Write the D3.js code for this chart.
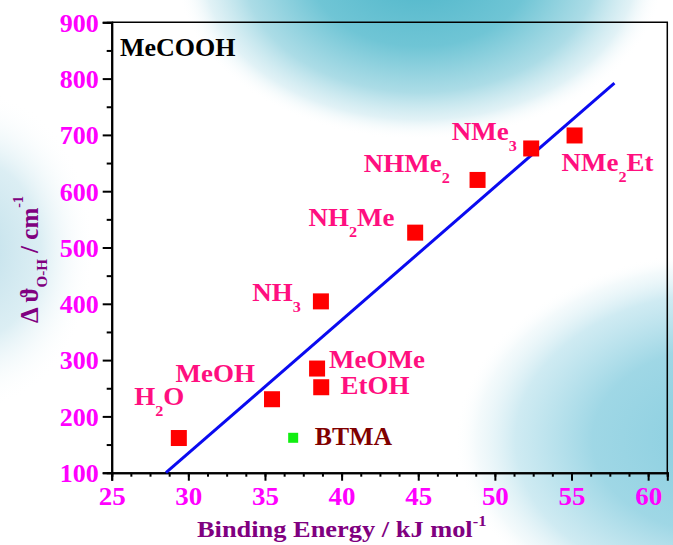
<!DOCTYPE html>
<html>
<head>
<meta charset="utf-8">
<script src="https://cdn.jsdelivr.net/npm/d3@7"></script>
<style>
  html, body { margin: 0; padding: 0; background: #ffffff; }
  svg { display: block; }
  text { font-family: "Liberation Serif", "Times New Roman", serif; font-weight: bold; }
</style>
</head>
<body>
<svg id="chart" width="673" height="545"></svg>
<script>
// Complexes of acetic acid: binding energy (kJ/mol) vs O-H frequency shift (cm^-1)
const complexes = ["H_2O", "MeOH", "MeOMe", "EtOH", "NH_3", "NH_2Me", "NHMe_2", "NMe_3", "NMe_2Et"];
const bindingEnergy = [29.38, 35.46, 38.4, 38.67, 38.65, 44.8, 48.87, 52.37, 55.2];
const shiftOH = [161.6, 230.5, 285, 251.8, 404.3, 526.4, 620, 675.9, 699];

// Reference molecule
const refName = ["BTMA"];
const refEnergy = [36.84];
const refShift = [162];

// Linear fit drawn across the data
const fitEnergy = [28.54, 57.8];
const fitShift = [100, 792];

// Axis ticks
const xTicks = [25, 30, 35, 40, 45, 50, 55, 60];
const xMinorTicks = d3.range(25, 61.26, 1.25);
const yTicks = [100, 200, 300, 400, 500, 600, 700, 800, 900];
const yMinorTicks = d3.range(150, 900, 100);

// Label placement around each marker: anchor and pixel offset of the text origin
const labelPlacement = [
  { anchor: "end",   dx: 5.5,  dy: -33 },
  { anchor: "end",   dx: -17,  dy: -17.5 },
  { anchor: "start", dx: 12,   dy: -1 },
  { anchor: "start", dx: 19.4, dy: 7.2 },
  { anchor: "end",   dx: -20,  dy: -0.6 },
  { anchor: "end",   dx: -20.6, dy: -6.5 },
  { anchor: "end",   dx: -27.7, dy: -7.8 },
  { anchor: "end",   dx: -14.3, dy: -8.3 },
  { anchor: "start", dx: -13,  dy: 35.4 }
];

const svg = d3.select("#chart");
const W = 673, H = 545;
const plot = { left: 111.7, right: 667.3, top: 22.3, bottom: 472.7 };
const wide = 1.08; // horizontal stretch giving the serif labels a broader face

const x = d3.scaleLinear().domain([25, 61.25]).range([plot.left, plot.right]);
const y = d3.scaleLinear().domain([100, 900]).range([plot.bottom, plot.top]);

// ---- soft blue backdrop ----
const defs = svg.append("defs");
function blob(id, stops) {
  const g = defs.append("radialGradient").attr("id", id);
  stops.forEach(s => g.append("stop").attr("offset", s[0]).attr("stop-color", s[1]).attr("stop-opacity", s[2]));
}
blob("blobTop", [[0, "#4cb5c9", 1], [0.45, "#68c2d3", 0.95], [0.72, "#9dd6e2", 0.85], [0.88, "#cde9f0", 0.6], [1, "#ffffff", 0]]);
blob("blobRight", [[0, "#86cddf", 1], [0.5, "#9ad5e4", 0.95], [0.78, "#bfe4ee", 0.75], [0.92, "#e2f2f6", 0.4], [1, "#ffffff", 0]]);
blob("blobLeft", [[0, "#bfdfea", 1], [0.55, "#d3eaf1", 0.8], [1, "#ffffff", 0]]);

svg.append("rect").attr("width", W).attr("height", H).attr("fill", "#ffffff");
svg.append("ellipse").attr("cx", 420).attr("cy", -30).attr("rx", 245).attr("ry", 170).attr("fill", "url(#blobTop)");
svg.append("ellipse").attr("cx", 730).attr("cy", 440).attr("rx", 275).attr("ry", 190).attr("fill", "url(#blobRight)");
svg.append("ellipse").attr("cx", -25).attr("cy", 250).attr("rx", 120).attr("ry", 160).attr("fill", "url(#blobLeft)");

// ---- frame (top and right) ----
svg.append("path")
  .attr("d", `M${plot.left},${plot.top}H${plot.right}V${plot.bottom}`)
  .attr("fill", "none").attr("stroke", "#000").attr("stroke-width", 1.5);

// ---- axes ----
function styleAxis(g) {
  g.selectAll("path.domain").attr("stroke", "#000").attr("stroke-width", 2);
  g.selectAll(".tick line").attr("stroke", "#000").attr("stroke-width", 2);
}

const xMinor = svg.append("g").attr("transform", `translate(0,${plot.bottom})`)
  .call(d3.axisBottom(x).tickValues(xMinorTicks).tickSize(4).tickFormat(""));
styleAxis(xMinor);

const xAxis = svg.append("g").attr("transform", `translate(0,${plot.bottom})`)
  .call(d3.axisBottom(x).tickValues(xTicks).tickSize(8).tickPadding(8).tickFormat(d3.format("d")));
styleAxis(xAxis);
xAxis.selectAll(".tick text")
  .attr("fill", "#ff00ff").attr("font-size", 25).attr("dy", null).attr("y", 32)
  .attr("transform", `scale(${wide},1)`)
  .style("font-family", '"Liberation Serif", serif').style("font-weight", "bold");

const yMinor = svg.append("g").attr("transform", `translate(${plot.left},0)`)
  .call(d3.axisLeft(y).tickValues(yMinorTicks).tickSize(5).tickFormat(""));
styleAxis(yMinor);

const yAxis = svg.append("g").attr("transform", `translate(${plot.left},0)`)
  .call(d3.axisLeft(y).tickValues(yTicks).tickSize(9).tickPadding(4).tickFormat(d3.format("d")));
styleAxis(yAxis);
yAxis.selectAll(".tick text")
  .attr("fill", "#ff00ff").attr("font-size", 26).attr("dy", "0.34em")
  .style("font-family", '"Liberation Serif", serif').style("font-weight", "bold");

// ---- axis titles ----
const xTitle = svg.append("text")
  .attr("transform", `translate(197,537) scale(1.1,1)`)
  .attr("fill", "#800080").attr("font-size", 24);
xTitle.append("tspan").text("Binding Energy / kJ mol");
xTitle.append("tspan").attr("font-size", 15).attr("dy", -11).text("-1");

const yTitle = svg.append("text")
  .attr("transform", "translate(38,323) rotate(-90)")
  .attr("fill", "#800080").attr("font-size", 25);
yTitle.append("tspan").text("\u0394 \u03D1");
yTitle.append("tspan").attr("font-size", 15).attr("dy", 9).text("O-H");
yTitle.append("tspan").attr("dy", -9).text(" / cm");
yTitle.append("tspan").attr("font-size", 14).attr("dy", -15).text("-1");

// ---- panel title ----
svg.append("text").attr("x", 120).attr("y", 56)
  .attr("fill", "#000").attr("font-size", 26).text("MeCOOH");

// ---- fit line ----
const fitPts = fitEnergy.map((e, i) => [e, fitShift[i]]);
svg.append("path")
  .datum(fitPts)
  .attr("d", d3.line().x(d => x(d[0])).y(d => y(d[1])))
  .attr("fill", "none").attr("stroke", "#0a0af0").attr("stroke-width", 3);

// ---- markers ----
const pts = complexes.map((n, i) => ({ name: n, e: bindingEnergy[i], s: shiftOH[i], place: labelPlacement[i] }));
const sq = 16;
svg.append("g").selectAll("rect").data(pts).join("rect")
  .attr("x", d => x(d.e) - sq / 2).attr("y", d => y(d.s) - sq / 2)
  .attr("width", sq).attr("height", sq).attr("fill", "#ff0000");

const ref = refName.map((n, i) => ({ name: n, e: refEnergy[i], s: refShift[i] }));
const sqRef = 10;
svg.append("g").selectAll("rect").data(ref).join("rect")
  .attr("x", d => x(d.e) - sqRef / 2).attr("y", d => y(d.s) - sqRef / 2)
  .attr("width", sqRef).attr("height", sqRef).attr("fill", "#11ee11");

// ---- marker labels with chemical subscripts ----
function writeFormula(textSel, formula) {
  const parts = formula.split(/_(\d)/);
  let lowered = false;
  parts.forEach((p, i) => {
    if (p === "") return;
    const isSub = i % 2 === 1;
    const t = textSel.append("tspan").text(p);
    if (isSub) { t.attr("font-size", 15).attr("dy", 11); lowered = true; }
    else if (lowered) { t.attr("dy", -11); lowered = false; }
  });
}

pts.forEach(d => {
  const t = svg.append("text")
    .attr("transform", `translate(${x(d.e) + d.place.dx},${y(d.s) + d.place.dy}) scale(${wide},1)`)
    .attr("text-anchor", d.place.anchor)
    .attr("fill", "#ff0f7f").attr("font-size", 25);
  writeFormula(t, d.name);
});

ref.forEach(d => {
  svg.append("text")
    .attr("transform", `translate(${x(d.e) + 21.7},${y(d.s) + 7.2}) scale(1.03,1)`)
    .attr("fill", "#800000").attr("font-size", 25).text(d.name);
});
</script>
</body>
</html>
